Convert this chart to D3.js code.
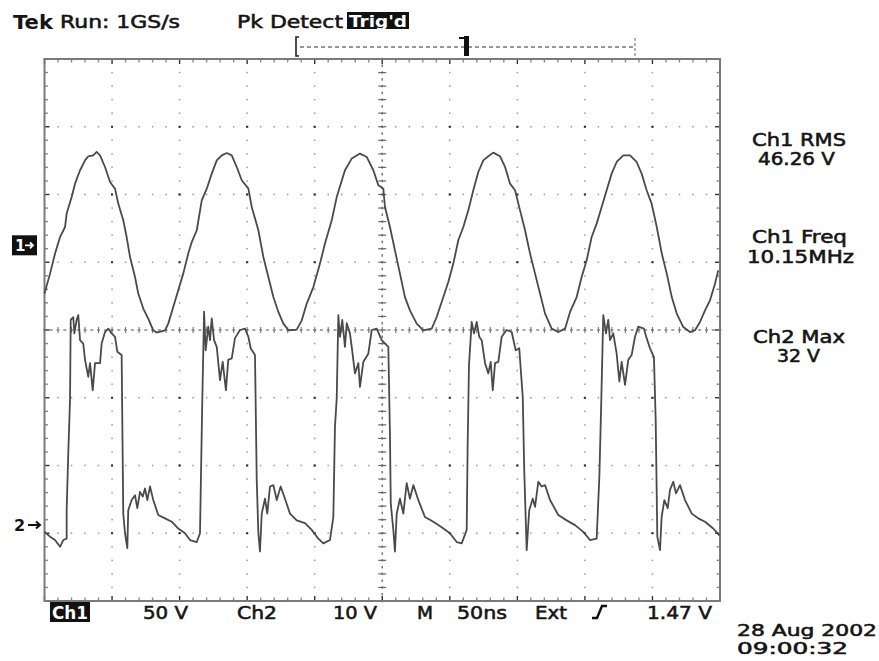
<!DOCTYPE html>
<html>
<head>
<meta charset="utf-8">
<script src="https://cdn.jsdelivr.net/npm/d3@7"></script>
<style>
  body { margin: 0; background: #fff; }
  svg { display: block; }
  text { font-family: "DejaVu Sans", "Liberation Sans", sans-serif; fill: #151515; }
</style>
</head>
<body>
<svg id="scope" width="879" height="661"></svg>
<script>
// Channel 1: ~10 MHz sine, sampled as [time ns, volts]
const ch1Samples = [
  [0,-35.6],[4.1,-20.9],[7.8,-6.1],[11.5,6.1],[15.2,13.5],[16.4,23.4],[20.1,35.6],[22.6,45.5],
  [26.3,55.4],[30.0,62.7],[32.4,65.7],[36.1,66.4],[38.6,68.9],[41.1,66.4],[44.8,57.8],[48.5,46.7],
  [52.2,41.8],[54.6,30.8],[58.3,18.5],[60.8,6.1],[63.3,-8.6],[67.0,-23.4],[69.4,-35.6],[73.1,-46.7],
  [76.8,-54.1],[80.5,-62.7],[83.0,-64.4],[89.2,-62.7],[91.6,-57.8],[95.3,-45.5],[99.0,-33.2],
  [102.7,-20.9],[106.4,-6.1],[109.0,2.4],[112.7,11.1],[116.4,33.2],[120.1,41.8],[123.8,52.9],
  [127.5,62.7],[131.2,66.4],[134.9,68.1],[138.6,66.4],[142.3,57.8],[146.0,48.0],[150.9,41.8],
  [153.4,28.3],[158.3,11.1],[162.0,-8.6],[165.7,-23.4],[169.4,-38.2],[173.1,-49.2],[176.8,-57.8],
  [180.5,-62.7],[186.7,-62.2],[190.4,-55.4],[194.1,-43.0],[199.0,-30.8],[203.9,-13.5],[207.6,1.3],
  [212.6,18.5],[216.3,35.6],[222.4,55.4],[227.4,64.0],[233.5,67.7],[238.5,65.2],[243.4,55.4],
  [247.1,44.3],[250.8,41.8],[252.0,28.3],[255.7,13.5],[259.4,-3.7],[263.1,-20.9],[266.8,-38.2],
  [270.5,-48.0],[275.5,-57.8],[280.4,-62.7],[286.6,-61.5],[290.3,-52.9],[295.2,-38.2],[298.9,-27.1],
  [302.6,-13.5],[306.3,3.7],[310.0,13.5],[313.7,25.8],[317.4,40.6],[321.1,54.1],[324.8,62.7],
  [328.5,65.7],[332.2,68.4],[337.2,65.7],[340.9,57.8],[344.6,45.5],[348.3,40.6],[352.0,25.8],
  [355.7,11.1],[359.4,-6.1],[363.1,-20.9],[366.8,-35.6],[370.5,-50.4],[375.4,-61.5],[380.3,-64.0],
  [385.3,-61.5],[389.0,-49.2],[393.9,-38.2],[397.6,-23.4],[401.3,-11.1],[405.0,6.1],[408.7,16.0],
  [412.4,28.3],[416.1,40.6],[419.8,52.9],[423.5,61.5],[428.4,66.4],[433.4,66.4],[438.3,61.5],
  [442.0,52.9],[445.7,40.6],[449.4,30.8],[453.2,13.5],[456.9,-6.1],[460.6,-20.9],[464.3,-38.2],
  [468.0,-50.4],[472.8,-60.3],[477.8,-64.0],[481.5,-62.7],[485.2,-56.6],[488.9,-48.0],[492.6,-40.6],
  [496.3,-28.3],[498.7,-18.5]
];

// Channel 2: switched drain waveform with ringing, [time ns, volts]
const ch2Samples = [
  [0,-1.0],[4.1,-1.7],[7.8,-2.2],[11.5,-3.2],[13.9,-2.2],[16.4,-2.0],[16.4,2.2],[17.6,10.6],
  [18.9,18.5],[19.4,30.3],[21.3,30.7],[22.1,28.3],[23.8,30.3],[25.0,31.0],[26.3,27.3],[28.7,26.8],
  [30.0,24.4],[32.4,21.9],[33.7,23.9],[35.7,19.9],[37.4,23.9],[41.1,23.9],[42.3,26.8],[44.8,28.5],
  [47.2,29.0],[49.7,28.3],[52.2,27.8],[53.9,25.6],[57.1,25.1],[58.3,1.7],[59.6,-1.2],[61.3,-3.4],
  [62.0,2.2],[64.5,3.7],[67.0,4.4],[68.7,2.5],[70.7,4.9],[72.7,4.2],[74.4,5.4],[76.1,3.7],
  [78.1,5.7],[80.5,3.7],[84.2,1.5],[89.2,1.0],[94.2,0.5],[99.0,-0.5],[104.0,-1.2],[107.7,-2.2],
  [112.7,-2.5],[115.1,-1.2],[115.6,4.7],[116.8,18.5],[117.5,25.3],[118.1,31.5],[119.3,25.8],
  [121.2,29.3],[122.5,27.3],[123.8,30.5],[125.5,27.3],[127.5,26.3],[129.9,21.4],[131.9,24.1],
  [134.3,19.9],[136.0,24.4],[138.6,24.6],[141.0,27.6],[144.7,28.8],[148.4,29.0],[150.9,27.8],
  [152.6,26.1],[155.8,25.1],[157.1,6.6],[158.3,-1.2],[159.5,-3.9],[160.8,1.7],[163.2,3.9],
  [164.9,1.7],[166.9,5.7],[169.4,5.9],[171.9,3.7],[174.8,5.7],[178.0,3.9],[181.7,1.7],[186.7,0.7],
  [192.8,0.3],[197.8,-0.7],[202.7,-2.0],[206.4,-2.7],[211.3,-2.2],[213.8,1.2],[215.0,14.5],
  [216.3,18.7],[217.5,31.0],[218.7,27.8],[220.4,30.3],[222.4,26.3],[223.7,29.8],[226.1,28.3],
  [227.4,26.3],[229.8,22.4],[232.3,23.9],[233.5,20.4],[236.0,24.1],[239.7,25.3],[242.2,28.8],
  [245.9,29.0],[249.6,27.3],[254.5,26.3],[255.7,13.5],[256.3,3.2],[258.2,-0.7],[259.4,-3.9],
  [260.7,1.7],[263.1,3.9],[265.6,1.7],[268.1,6.2],[270.5,3.9],[273.0,5.9],[276.7,3.7],[281.6,1.2],
  [287.8,0.5],[294.0,-0.3],[300.1,-1.2],[305.1,-2.5],[308.8,-2.7],[312.5,-0.7],[313.2,11.6],
  [314.2,23.6],[316.2,30.0],[317.9,28.3],[319.9,30.0],[321.8,27.8],[323.6,27.3],[326.1,23.9],
  [328.5,22.4],[330.3,24.1],[331.8,19.9],[333.5,23.9],[335.9,24.1],[338.4,27.8],[342.1,28.8],
  [345.8,28.5],[348.8,25.8],[351.4,26.1],[354.0,18.9],[355.1,8.1],[356.9,-3.7],[358.8,2.2],
  [361.4,3.9],[363.1,2.7],[365.5,6.4],[368.0,5.7],[370.5,5.9],[374.2,3.7],[380.3,1.5],[386.5,0.7],
  [392.7,0.0],[398.8,-1.0],[403.8,-2.2],[408.7,-2.0],[410.7,7.1],[411.9,16.5],[413.6,31.0],
  [415.6,28.3],[417.3,30.3],[418.6,27.3],[421.0,28.3],[423.5,25.3],[425.5,21.2],[427.2,24.1],
  [429.7,20.7],[432.1,24.4],[434.6,25.1],[437.1,27.8],[439.5,29.3],[443.7,29.0],[445.7,27.6],
  [448.2,26.1],[451.1,24.8],[452.4,15.5],[453.6,-1.7],[455.6,-3.7],[456.8,1.2],[458.8,3.7],
  [461.3,2.5],[463.0,5.2],[465.4,6.4],[467.4,4.7],[470.4,5.9],[474.1,3.7],[479.1,1.7],[483.9,1.0],
  [488.9,0.5],[495.0,-0.5],[499.5,-1.5]
];

// Acquisition settings and readouts
const headerTexts = ["Tek", "Run: 1GS/s", "Pk Detect", "Trig'd"];
const footerTexts = ["Ch1", "50 V", "Ch2", "10 V", "M", "50ns", "Ext", "1.47 V"];
const measureNames = ["Ch1 RMS", "Ch1 Freq", "Ch2 Max"];
const measureValues = ["46.26 V", "10.15MHz", "32 V"];
const dateStamp = ["28 Aug 2002", "09:00:32"];

const svg = d3.select("#scope");

// ---- screen geometry: 10 x 8 division graticule ----
const L = 44.5, R = 720, T = 59, B = 601;
const x = d3.scaleLinear([0, 500], [L, R]);          // 50 ns/div
const yDiv = d3.scaleLinear([-4, 4], [B, T]);         // divisions
const ch1 = { voltsPerDiv: 50, position: 1.25 };
const ch2 = { voltsPerDiv: 10, position: -2.88 };
const y1 = v => yDiv(v / ch1.voltsPerDiv + ch1.position);
const y2 = v => yDiv(v / ch2.voltsPerDiv + ch2.position);

const grid = svg.append("g");
const minorY = d3.range(0, 41).map(i => -4 + i * 0.2);
const minorX = d3.range(0, 51).map(i => i * 10);
const majorX = d3.range(1, 10).map(i => i * 50);
const majorY = d3.range(-3, 4);
const isInt = v => Math.abs(v - Math.round(v)) < 1e-6;

// dotted major verticals
majorX.filter(t => t !== 250).forEach(t => {
  grid.selectAll(null).data(minorY.slice(1, -1)).join("rect")
    .attr("x", d => x(t) - (isInt(d) ? 1 : 0.75))
    .attr("y", d => yDiv(d) - (isInt(d) ? 1 : 0.75))
    .attr("width", d => isInt(d) ? 2 : 1.5)
    .attr("height", d => isInt(d) ? 2 : 1.5)
    .attr("fill", d => isInt(d) ? "#333" : "#999");
});
// dotted major horizontals
majorY.filter(d => d !== 0).forEach(dv => {
  grid.selectAll(null).data(minorX.slice(1, -1)).join("rect")
    .attr("x", t => x(t) - (t % 50 === 0 ? 1 : 0.75))
    .attr("y", yDiv(dv) - 0.75)
    .attr("width", t => t % 50 === 0 ? 2 : 1.5)
    .attr("height", 1.5)
    .attr("fill", t => t % 50 === 0 ? "#333" : "#999");
});

// centre lines: fine dashes plus crossing ticks every minor division
const halfMinorY = d3.range(0, 81).map(i => -4 + i * 0.1);
const halfMinorX = d3.range(0, 101).map(i => i * 5);
grid.selectAll(null).data(halfMinorY).join("rect")
  .attr("x", x(250) - 0.75).attr("y", d => yDiv(d) - 1.25)
  .attr("width", 1.5).attr("height", 2.5).attr("fill", "#777");
grid.selectAll(null).data(minorY).join("line")
  .attr("x1", x(250) - 4).attr("x2", x(250) + 4)
  .attr("y1", d => yDiv(d)).attr("y2", d => yDiv(d))
  .attr("stroke", "#666").attr("stroke-width", 1.2);
grid.selectAll(null).data(halfMinorX).join("rect")
  .attr("x", t => x(t) - 1.5).attr("y", yDiv(0) - 0.75)
  .attr("width", 3).attr("height", 1.5).attr("fill", "#888");
grid.selectAll(null).data(minorX).join("line")
  .attr("x1", t => x(t)).attr("x2", t => x(t))
  .attr("y1", yDiv(0) - 3).attr("y2", yDiv(0) + 3)
  .attr("stroke", "#777").attr("stroke-width", 1.1);

// edge ticks
grid.selectAll(null).data(minorX).join("line")
  .attr("x1", t => x(t)).attr("x2", t => x(t))
  .attr("y1", T).attr("y2", t => T + (t % 50 === 0 ? 5 : 3.5))
  .attr("stroke", t => t % 50 === 0 ? "#333" : "#888").attr("stroke-width", 1.4);
grid.selectAll(null).data(minorX).join("line")
  .attr("x1", t => x(t)).attr("x2", t => x(t))
  .attr("y1", B).attr("y2", t => B - (t % 50 === 0 ? 5 : 3.5))
  .attr("stroke", t => t % 50 === 0 ? "#333" : "#888").attr("stroke-width", 1.4);
grid.selectAll(null).data(minorY).join("line")
  .attr("x1", L).attr("x2", d => L + (isInt(d) ? 5 : 3.5))
  .attr("y1", d => yDiv(d)).attr("y2", d => yDiv(d))
  .attr("stroke", d => isInt(d) ? "#333" : "#888").attr("stroke-width", 1.4);
grid.selectAll(null).data(minorY).join("line")
  .attr("x1", R).attr("x2", d => R - (isInt(d) ? 5 : 3.5))
  .attr("y1", d => yDiv(d)).attr("y2", d => yDiv(d))
  .attr("stroke", d => isInt(d) ? "#333" : "#888").attr("stroke-width", 1.4);

// frame
grid.append("rect").attr("x", L).attr("y", T)
  .attr("width", R - L).attr("height", B - T)
  .attr("fill", "none").attr("stroke", "#7a7a7a").attr("stroke-width", 2);

// ---- traces ----
const traces = svg.append("g").attr("fill", "none")
  .attr("stroke", "#4a4a4a").attr("stroke-width", 1.8).attr("stroke-linejoin", "round");
traces.append("path").datum(ch1Samples)
  .attr("d", d3.line().x(d => x(d[0])).y(d => y1(d[1])));
traces.append("path").datum(ch2Samples)
  .attr("d", d3.line().x(d => x(d[0])).y(d => y2(d[1])));

// ---- channel ground markers ----
const m1 = y1(0);
svg.append("rect").attr("x", 12).attr("y", m1 - 10).attr("width", 25).attr("height", 20).attr("fill", "#111");
svg.append("text").attr("x", 15).attr("y", m1 + 6).attr("font-size", 15)
  .attr("font-weight", "bold").style("fill", "#fff").text("1");
svg.append("path").attr("d", `M25,${m1} L33,${m1} M30,${m1 - 3} L33,${m1} L30,${m1 + 3}`)
  .attr("stroke", "#fff").attr("stroke-width", 1.8).attr("fill", "none");
const m2 = y2(0);
svg.append("text").attr("x", 14).attr("y", m2 + 6).attr("font-size", 16).attr("font-weight", "bold").text("2");
svg.append("path").attr("d", `M28,${m2} L40,${m2} M36,${m2 - 3.5} L40,${m2} L36,${m2 + 3.5}`)
  .attr("stroke", "#111").attr("stroke-width", 2).attr("fill", "none");

// ---- readout text, stretched to the screen font's cell widths ----
function label(str, x0, base, width, opts = {}) {
  const fill = opts.fill || "#151515";
  return svg.append("text").attr("x", x0).attr("y", base)
    .attr("font-size", opts.size || 17)
    .attr("font-weight", opts.weight || "normal")
    .attr("textLength", width).attr("lengthAdjust", "spacingAndGlyphs")
    .style("fill", fill)
    .style("stroke", fill).style("stroke-width", opts.weight === "bold" ? 0 : 0.55)
    .text(str);
}

// header
label(headerTexts[0], 13, 29, 40, { size: 20, weight: "bold" });
label(headerTexts[1], 60, 28, 120);
label(headerTexts[2], 237, 28, 106);
svg.append("rect").attr("x", 347).attr("y", 12).attr("width", 62).attr("height", 17).attr("fill", "#111");
label(headerTexts[3], 349, 27, 58, { size: 16, weight: "bold", fill: "#fff" });

// record / trigger position indicator
svg.append("path").attr("d", "M299,37 L296,37 L296,56 L299,56")
  .attr("fill", "none").attr("stroke", "#222").attr("stroke-width", 1.6);
svg.append("line").attr("x1", 300).attr("x2", 634).attr("y1", 47).attr("y2", 47)
  .attr("stroke", "#777").attr("stroke-width", 1.3).attr("stroke-dasharray", "4,3");
svg.append("line").attr("x1", 635).attr("x2", 635).attr("y1", 38).attr("y2", 56)
  .attr("stroke", "#888").attr("stroke-width", 1.3).attr("stroke-dasharray", "3,2");
svg.append("rect").attr("x", 464).attr("y", 36).attr("width", 5).attr("height", 20).attr("fill", "#111");
svg.append("line").attr("x1", 459).attr("x2", 466).attr("y1", 38).attr("y2", 38)
  .attr("stroke", "#111").attr("stroke-width", 2);

// footer
svg.append("rect").attr("x", 50).attr("y", 602).attr("width", 40).attr("height", 20).attr("fill", "#111");
label(footerTexts[0], 52, 619, 36, { fill: "#fff", weight: "bold" });
label(footerTexts[1], 143, 619, 45);
label(footerTexts[2], 237, 619, 40);
label(footerTexts[3], 333, 619, 44);
label(footerTexts[4], 417, 619, 16);
label(footerTexts[5], 457, 619, 50);
label(footerTexts[6], 535, 619, 32);
svg.append("path").attr("d", "M592,618 L597,618 L602,606 L607,606")
  .attr("fill", "none").attr("stroke", "#111").attr("stroke-width", 2.4);
label(footerTexts[7], 647, 619, 65);

// measurements
const mLayout = [
  { nx: 752, nb: 146, nw: 94, vx: 758, vb: 165, vw: 77 },
  { nx: 752, nb: 243, nw: 95, vx: 747, vb: 263, vw: 107 },
  { nx: 753, nb: 343, nw: 92, vx: 777, vb: 362, vw: 43 }
];
measureNames.forEach((n, i) => {
  const p = mLayout[i];
  label(n, p.nx, p.nb, p.nw);
  label(measureValues[i], p.vx, p.vb, p.vw);
});

// date / time
label(dateStamp[0], 737, 636, 140, { size: 15 });
label(dateStamp[1], 737, 654, 111, { size: 15 });
</script>
</body>
</html>
